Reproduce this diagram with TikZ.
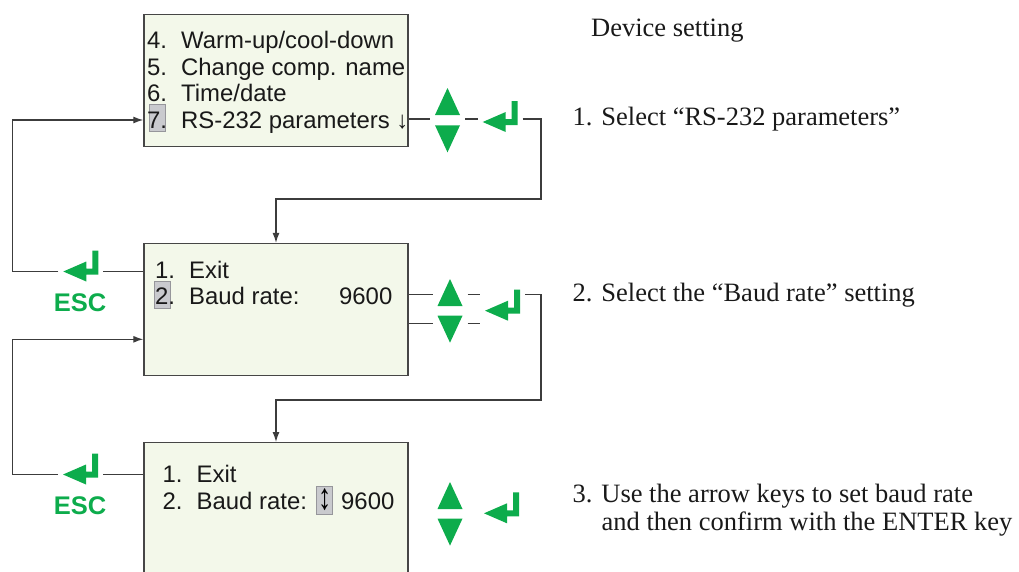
\documentclass[tikz,border=0pt]{standalone}
\usepackage{fontspec}
\setmainfont{Liberation Serif}
\setsansfont{Liberation Sans}
\usetikzlibrary{arrows.meta}
\definecolor{keygreen}{RGB}{13,172,76}
\definecolor{boxfill}{RGB}{243,248,234}
\definecolor{boxline}{RGB}{70,70,70}
\definecolor{linecol}{RGB}{60,60,60}
\definecolor{hlfill}{RGB}{201,202,206}
\definecolor{hlline}{RGB}{150,150,155}
\newcommand{\itm}[2]{\makebox[34pt][l]{#1}#2}

\begin{document}
\begin{tikzpicture}[x=1pt, y=-1pt,
    menubox/.style={draw=boxline, fill=boxfill, line width=1.4pt, minimum width=264pt, minimum height=132pt, inner sep=0pt},
    menutext/.style={font=\sffamily\fontsize{23.9}{26}\selectfont, text=black!90, inner sep=0pt, anchor=base west},
    hlbox/.style={draw=hlline, fill=hlfill, line width=0.8pt, minimum width=16pt, minimum height=27pt, inner sep=0pt},
    steptext/.style={font=\fontsize{26.5}{28}\selectfont, text=black!90, inner sep=0pt, anchor=base west},
    esctext/.style={font=\sffamily\bfseries\fontsize{25.5}{28}\selectfont, text=keygreen, inner sep=0pt, anchor=base},
    upkey/.style={minimum width=25pt, minimum height=27pt, inner sep=0pt, outer sep=5pt,
      path picture={\fill[keygreen] (path picture bounding box.south west) -- (path picture bounding box.south east) -- (path picture bounding box.north) -- cycle;}},
    downkey/.style={minimum width=25pt, minimum height=27pt, inner sep=0pt, outer sep=5pt,
      path picture={\fill[keygreen] (path picture bounding box.north west) -- (path picture bounding box.north east) -- (path picture bounding box.south) -- cycle;}},
    enterkey/.style={minimum width=35pt, minimum height=44pt, inner sep=0pt, outer sep=5pt,
      path picture={\fill[keygreen, shift={(path picture bounding box.center)}] (-17.5pt,0pt) -- (5.5pt,10pt) -- (5.5pt,3pt) -- (11.5pt,3pt) -- (11.5pt,21pt) -- (17.5pt,21pt) -- (17.5pt,-3pt) -- (5.5pt,-3pt) -- (5.5pt,-10pt) -- cycle;}},
    link/.style={draw=linecol, line width=1.3pt},
    feed/.style={link, -{Latex[length=10pt,width=7pt]}}]
  \useasboundingbox (0,0) rectangle (1019,571);
  \clip (0,0) rectangle (1019,571);

  % menu screens
  \node[menubox] (m1) at (276,80.7) {};
  \node[menubox] (m2) at (276,309.6) {};
  \node[menubox, minimum height=140pt] (m3) at (276,512.7) {};

  % highlighted cursor fields
  \node[hlbox] (sel1) at (157,118.3) {};
  \node[hlbox] (sel2) at (162.8,295.3) {};
  \node[hlbox, minimum height=28pt, font=\sffamily\bfseries\fontsize{23.9}{26}\selectfont] (sel3) at (324.7,500) {\scalebox{1.1}[1.55]{↕}};

  % screen 1
  \node[menutext] (r4) at (147,48.5) {\itm{4.}{Warm-up/cool-down}};
  \node[menutext] (r5) at (147,75) {\itm{5.}{Change comp. name}};
  \node[menutext] (r6) at (147,101.5) {\itm{6.}{Time/date}};
  \node[menutext] (r7) at (147,128) {\itm{7.}{RS-232 parameters ↓}};

  % screen 2
  \node[menutext] (s1) at (155,278.5) {\itm{1.}{Exit}};
  \node[menutext] (s2) at (155,304.5) {\itm{2.}{Baud rate:}};
  \node[menutext, anchor=base east] (s2v) at (392.5,304.5) {9600};

  % screen 3
  \node[menutext] (u1) at (162.5,482.7) {\itm{1.}{Exit}};
  \node[menutext] (u2) at (162.5,509) {\itm{2.}{Baud rate:}};
  \node[menutext] (u2v) at (341,509) {9600};

  % keys
  \node[upkey] (up1) at (447.5,101.5) {};
  \node[downkey] (dn1) at (447.5,138.8) {};
  \node[enterkey] (ent1) at (500.2,122) {};
  \node[upkey] (up2) at (450,292.5) {};
  \node[downkey] (dn2) at (450,329.2) {};
  \node[enterkey] (ent2) at (502.5,310.7) {};
  \node[upkey] (up3) at (450,495.5) {};
  \node[downkey] (dn3) at (450,532.1) {};
  \node[enterkey] (ent3) at (501.5,513.3) {};
  \node[enterkey] (esc1) at (80.8,271.5) {};
  \node[esctext] (esclab1) at (80,311.7) {ESC};
  \node[enterkey] (esc2) at (80.5,474.5) {};
  \node[esctext] (esclab2) at (80,514.5) {ESC};

  % corners
  \coordinate (k1) at (541,119);
  \coordinate (t1) at (276,199);
  \coordinate (k2) at (541,294.3);
  \coordinate (k2b) at (541,323.3);
  \coordinate (t2) at (276,400);
  \coordinate (l1) at (12.3,120);
  \coordinate (l2) at (12.3,339.3);

  % forward paths
  \draw[link] (m1.east |- k1) -- (up1.west |- k1);
  \draw[link] (up1.east |- k1) -- (ent1.west |- k1);
  \draw[feed] (ent1.east |- k1) -- (k1) |- (t1) -- (m2.north);
  \draw[link] (m2.east |- k2) -- (up2.west |- k2);
  \draw[link] (up2.east |- k2) -- (ent2.west |- k2);
  \draw[link] (m2.east |- k2b) -- (dn2.west |- k2b);
  \draw[link] (dn2.east |- k2b) -- (ent2.west |- k2b);
  \draw[feed] (ent2.east |- k2) -- (k2) |- (t2) -- (m3.north);

  % escape paths
  \draw[link] (m2.west |- esc1) -- (esc1.east);
  \draw[feed] (esc1.west) -| (l1) -- (m1.west |- l1);
  \draw[link] (m3.west |- esc2) -- (esc2.east);
  \draw[feed] (esc2.west) -| (l2) -- (m2.west |- l2);

  % instructions
  \node[steptext] (title) at (591,36.7) {Device setting};
  \node[steptext] (step1) at (572.5,125) {1. Select “RS-232 parameters”};
  \node[steptext] (step2) at (572.5,301.5) {2. Select the “Baud rate” setting};
  \node[steptext] (step3a) at (572.5,502.7) {3. Use the arrow keys to set baud rate};
  \node[steptext] (step3b) at (601.5,530) {and then confirm with the ENTER key};
\end{tikzpicture}
\end{document}
